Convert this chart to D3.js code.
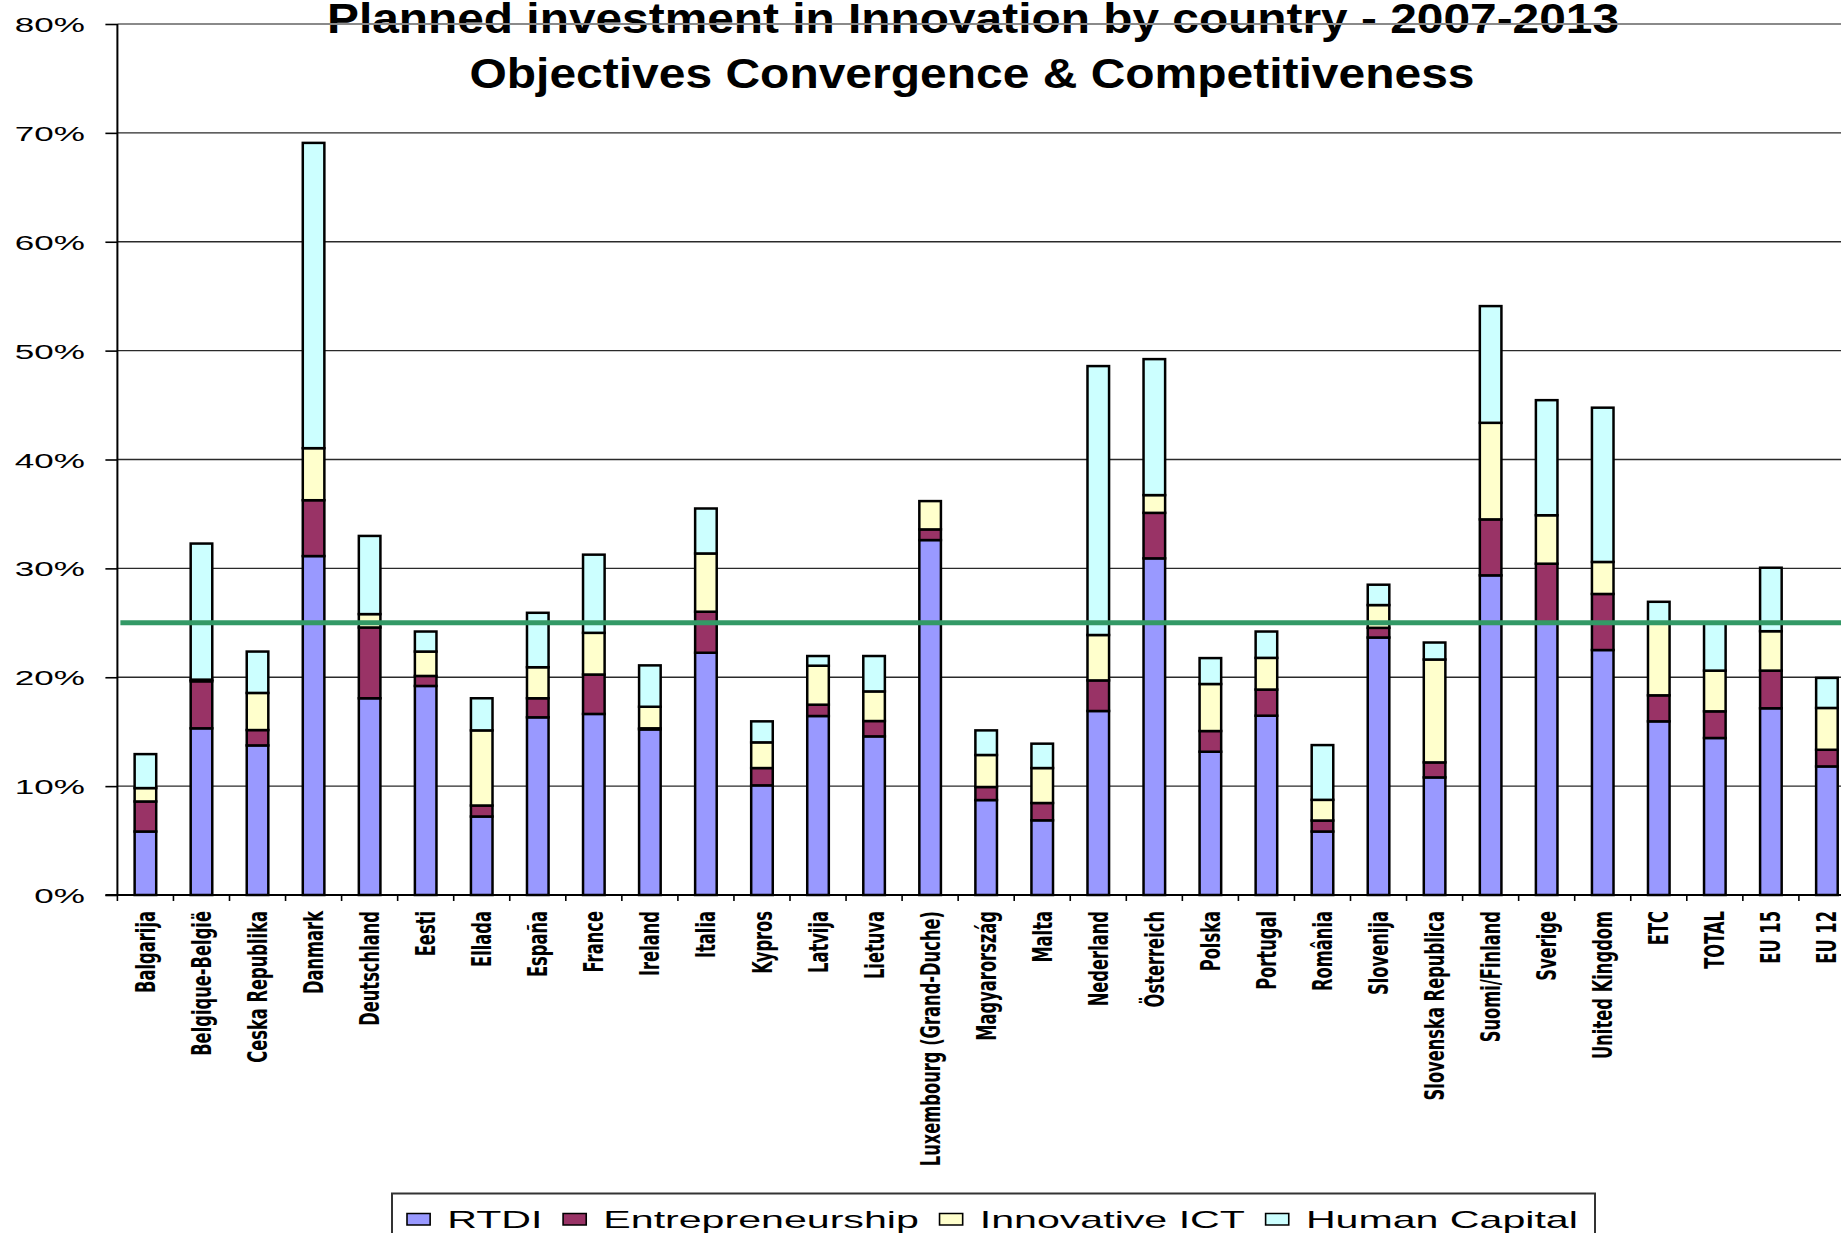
<!DOCTYPE html>
<html>
<head>
<meta charset="utf-8">
<script src="https://cdn.jsdelivr.net/npm/d3@7"></script>
<style>
  html, body { margin: 0; padding: 0; background: #fff; overflow: hidden; }
  svg { display: block; overflow: hidden; }
</style>
</head>
<body>
<svg id="chart" width="1841" height="1233"></svg>
<script>
// ---------------- DATA ----------------
const titleLines = [
  "Planned investment in Innovation by country - 2007-2013",
  "Objectives Convergence & Competitiveness"
];
const categories = [
  "Balgarija", "Belgique-België", "Ceska Republika", "Danmark", "Deutschland",
  "Eesti", "Ellada", "España", "France", "Ireland", "Italia", "Kypros",
  "Latvija", "Lietuva", "Luxembourg (Grand-Duche)", "Magyarország", "Malta",
  "Nederland", "Österreich", "Polska", "Portugal", "România", "Slovenija",
  "Slovenska Republica", "Suomi/Finland", "Sverige", "United Kingdom",
  "ETC", "TOTAL", "EU 15", "EU 12"
];
const seriesNames = ["RTDI", "Entrepreneurship", "Innovative ICT", "Human Capital"];
// values in percent
const rtdi = [5.83, 15.31, 13.74, 31.13, 18.07, 19.2, 7.21, 16.32, 16.63, 15.21, 22.25, 10.07,
  16.44, 14.57, 32.6, 8.72, 6.86, 16.9, 30.92, 13.16, 16.47, 5.83, 23.65,
  10.8, 29.36, 25.0, 22.5, 15.95, 14.42, 17.15, 11.81];
const entrepreneurship = [2.76, 4.32, 1.41, 5.13, 6.5, 0.92, 1.01, 1.75, 3.62, 0.1, 3.77, 1.59,
  1.04, 1.41, 0.98, 1.2, 1.59, 2.81, 4.18, 1.9, 2.4, 1.01, 0.89,
  1.38, 5.14, 5.43, 5.15, 2.39, 2.45, 3.46, 1.53];
const innovativeICT = [1.23, 0.15, 3.41, 4.78, 1.23, 2.24, 6.9, 2.85, 3.83, 1.98, 5.35, 2.36,
  3.58, 2.72, 2.6, 2.94, 3.21, 4.17, 1.63, 4.32, 2.91, 1.9, 2.09,
  9.45, 8.87, 4.45, 2.94, 6.66, 3.74, 3.62, 3.84];
const humanCapital = [3.12, 12.5, 3.8, 28.04, 7.18, 1.84, 2.95, 5.0, 7.18, 3.8, 4.13, 1.93,
  0.89, 3.25, 0, 2.26, 2.24, 24.7, 12.49, 2.38, 2.42, 5.03, 1.87,
  1.56, 10.72, 10.57, 14.17, 1.93, 4.39, 5.83, 2.76];
const yTicks = [0, 10, 20, 30, 40, 50, 60, 70, 80];
const benchmark = 25;

// ---------------- STYLE ----------------
const colors = {
  "RTDI": "#9999FF",
  "Entrepreneurship": "#993366",
  "Innovative ICT": "#FFFFCC",
  "Human Capital": "#CCFFFF"
};
const SANS = "'Liberation Sans', Arial, sans-serif";
const LABEL_FONT = "'DejaVu Sans', Verdana, sans-serif";

const svg = d3.select("#chart");

// ---------------- LAYOUT ----------------
const plotLeft = 117.4;
const plotBottom = 895;
const plotTop = 24;
const step = 56.05;
const plotRight = plotLeft + step * categories.length;

const x = d3.scaleBand()
  .domain(categories)
  .range([plotLeft, plotRight])
  .paddingInner(0.615)
  .paddingOuter(0.3075);

const y = d3.scaleLinear()
  .domain([0, 80])
  .range([plotBottom, plotTop]);

// ---------------- TITLE ----------------
const titleGeom = [
  { cx: 973, base: 33, width: 1292 },
  { cx: 972, base: 87.5, width: 1005 }
];
titleLines.forEach((t, i) => {
  svg.append("text")
    .attr("x", titleGeom[i].cx)
    .attr("y", titleGeom[i].base)
    .attr("text-anchor", "middle")
    .attr("font-family", SANS)
    .attr("font-weight", "bold")
    .attr("font-size", 43)
    .attr("textLength", titleGeom[i].width)
    .attr("lengthAdjust", "spacingAndGlyphs")
    .attr("fill", "#000")
    .text(t);
});

// ---------------- GRIDLINES ----------------
svg.append("g").selectAll("line")
  .data(yTicks.filter(d => d > 0))
  .join("line")
  .attr("x1", plotLeft)
  .attr("x2", 1841)
  .attr("y1", d => y(d))
  .attr("y2", d => y(d))
  .attr("stroke", d => d === 80 ? "#8a8a8a" : "#2a2a2a")
  .attr("stroke-width", d => d === 80 ? 2.2 : 1.4);

// ---------------- BARS ----------------
const rows = categories.map((c, i) => ({
  cat: c,
  "RTDI": rtdi[i],
  "Entrepreneurship": entrepreneurship[i],
  "Innovative ICT": innovativeICT[i],
  "Human Capital": humanCapital[i]
}));
const stacked = d3.stack().keys(seriesNames)(rows);

svg.append("g").selectAll("g")
  .data(stacked)
  .join("g")
  .attr("fill", s => colors[s.key])
  .selectAll("rect")
  .data(s => s.filter(d => d[1] - d[0] > 0.001))
  .join("rect")
  .attr("x", d => x(d.data.cat))
  .attr("width", x.bandwidth())
  .attr("y", d => y(d[1]))
  .attr("height", d => y(d[0]) - y(d[1]))
  .attr("stroke", "#000")
  .attr("stroke-width", 2.5);

// ---------------- BENCHMARK LINE ----------------
svg.append("line")
  .attr("x1", plotLeft + 3)
  .attr("x2", 1841)
  .attr("y1", y(benchmark))
  .attr("y2", y(benchmark))
  .attr("stroke", "#339966")
  .attr("stroke-width", 5);

// ---------------- AXES ----------------
// Y axis
const yAxis = svg.append("g")
  .attr("transform", `translate(${plotLeft},0)`)
  .call(d3.axisLeft(y).tickValues(yTicks).tickSize(12).tickFormat(d => d + "%"));
yAxis.select(".domain").attr("stroke", "#000").attr("stroke-width", 2)
  .attr("d", `M0,${plotTop}V${plotBottom}`);
yAxis.selectAll(".tick line").attr("stroke", "#000").attr("stroke-width", 1.6);
const ySX = 1.67;
yAxis.selectAll(".tick text")
  .attr("font-family", SANS)
  .attr("font-size", 21)
  .attr("fill", "#000")
  .attr("text-anchor", "end")
  .attr("x", -32.4 / ySX)
  .attr("dy", "0.36em")
  .attr("transform", `scale(${ySX},1)`);

// X axis line
svg.append("line")
  .attr("x1", plotLeft - 12)
  .attr("x2", 1841)
  .attr("y1", plotBottom)
  .attr("y2", plotBottom)
  .attr("stroke", "#000")
  .attr("stroke-width", 2);

// X ticks at category boundaries
const boundaries = [plotLeft].concat(categories.map(c => x(c) + x.bandwidth() / 2 + x.step() / 2));
svg.append("g").selectAll("line")
  .data(boundaries)
  .join("line")
  .attr("x1", d => d)
  .attr("x2", d => d)
  .attr("y1", plotBottom)
  .attr("y2", plotBottom + 6)
  .attr("stroke", "#000")
  .attr("stroke-width", 1.6);

// Category labels (rotated)
svg.append("g").selectAll("text")
  .data(categories)
  .join("text")
  .attr("transform", c => `translate(${x(c) + x.bandwidth() / 2},911) rotate(-90) scale(1.02,1.7)`)
  .attr("text-anchor", "end")
  .attr("y", 5.6)
  .attr("font-family", LABEL_FONT)
  .attr("font-weight", "bold")
  .attr("font-size", 16)
  .attr("fill", "#000")
  .text(c => c);

// ---------------- LEGEND ----------------
const legendBox = { left: 392, right: 1595, top: 1193.5 };
svg.append("rect")
  .attr("x", legendBox.left)
  .attr("y", legendBox.top)
  .attr("width", legendBox.right - legendBox.left)
  .attr("height", 80)
  .attr("fill", "#fff")
  .attr("stroke", "#333")
  .attr("stroke-width", 2);

const legendStart = 407, legendEnd = 1578;
const lg = svg.append("g");
const markerW = 13.5, gap1 = 10, gap2 = 12;
let cursor = 0;
const items = seriesNames.map(name => {
  const m = lg.append("rect")
    .attr("y", 1213.5)
    .attr("width", markerW)
    .attr("height", 11.5)
    .attr("fill", colors[name])
    .attr("stroke", "#000")
    .attr("stroke-width", 1.6)
    .attr("vector-effect", "non-scaling-stroke");
  const t = lg.append("text")
    .attr("y", 1228)
    .attr("font-family", SANS)
    .attr("font-size", 24)
    .attr("fill", "#000")
    .text(name);
  return { m, t };
});
items.forEach((it, i) => {
  it.m.attr("x", cursor);
  cursor += markerW + gap1;
  it.t.attr("x", cursor);
  cursor += it.t.node().getComputedTextLength();
  if (i < items.length - 1) cursor += gap2;
});
const lk = (legendEnd - legendStart) / cursor;
lg.attr("transform", `translate(${legendStart},0) scale(${lk},1)`);
</script>
</body>
</html>
